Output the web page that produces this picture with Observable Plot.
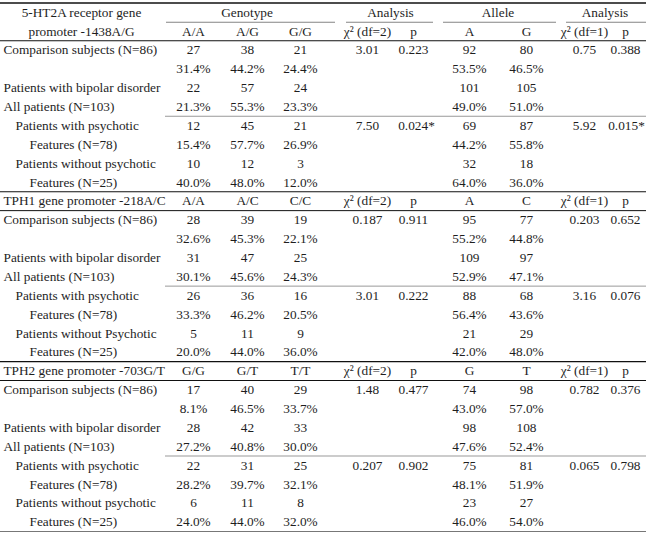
<!DOCTYPE html>
<html>
<head>
<meta charset="utf-8">
<script src="https://cdn.jsdelivr.net/npm/d3@7"></script>
<script src="https://cdn.jsdelivr.net/npm/@observablehq/plot@0.6"></script>
<style>
  html, body { margin: 0; padding: 0; background: #fff; }
  #chart svg { display: block; }
</style>
</head>
<body>
<div id="chart"></div>
<script>
// ---------- data ----------
const geneTitles = [
  ["5-HT2A receptor gene", "promoter -1438A/G"],
  ["TPH1 gene promoter -218A/C"],
  ["TPH2 gene promoter -703G/T"]
];
const groupHeaders = ["Genotype", "Analysis", "Allele", "Analysis"];
const genotypeLabels = [["A/A", "A/G", "G/G"], ["A/A", "A/C", "C/C"], ["G/G", "G/T", "T/T"]];
const alleleLabels = [["A", "G"], ["A", "C"], ["G", "T"]];
const chiLabels = ["χ² (df=2)", "p", "χ² (df=1)", "p"];

const rowLabels = [
  [["Comparison subjects (N=86)", ""], ["Patients with bipolar disorder", "All patients (N=103)"], ["Patients with psychotic", "Features (N=78)"], ["Patients without psychotic", "Features (N=25)"]],
  [["Comparison subjects (N=86)", ""], ["Patients with bipolar disorder", "All patients (N=103)"], ["Patients with psychotic", "Features (N=78)"], ["Patients without Psychotic", "Features (N=25)"]],
  [["Comparison subjects (N=86)", ""], ["Patients with bipolar disorder", "All patients (N=103)"], ["Patients with psychotic", "Features (N=78)"], ["Patients without psychotic", "Features (N=25)"]]
];

const genotypeCounts = [
  [[27, 38, 21], [22, 57, 24], [12, 45, 21], [10, 12, 3]],
  [[28, 39, 19], [31, 47, 25], [26, 36, 16], [5, 11, 9]],
  [[17, 40, 29], [28, 42, 33], [22, 31, 25], [6, 11, 8]]
];
const genotypePct = [
  [[31.4, 44.2, 24.4], [21.3, 55.3, 23.3], [15.4, 57.7, 26.9], [40.0, 48.0, 12.0]],
  [[32.6, 45.3, 22.1], [30.1, 45.6, 24.3], [33.3, 46.2, 20.5], [20.0, 44.0, 36.0]],
  [[8.1, 46.5, 33.7], [27.2, 40.8, 30.0], [28.2, 39.7, 32.1], [24.0, 44.0, 32.0]]
];
const alleleCounts = [
  [[92, 80], [101, 105], [69, 87], [32, 18]],
  [[95, 77], [109, 97], [88, 68], [21, 29]],
  [[74, 98], [98, 108], [75, 81], [23, 27]]
];
const allelePct = [
  [[53.5, 46.5], [49.0, 51.0], [44.2, 55.8], [64.0, 36.0]],
  [[55.2, 44.8], [52.9, 47.1], [56.4, 43.6], [42.0, 48.0]],
  [[43.0, 57.0], [47.6, 52.4], [48.1, 51.9], [46.0, 54.0]]
];
// [chi2, p] for groups 0 (comparison) and 2 (psychotic vs non-psychotic)
const genotypeChi = [
  [["3.01", "0.223"], null, ["7.50", "0.024*"], null],
  [["0.187", "0.911"], null, ["3.01", "0.222"], null],
  [["1.48", "0.477"], null, ["0.207", "0.902"], null]
];
const alleleChi = [
  [["0.75", "0.388"], null, ["5.92", "0.015*"], null],
  [["0.203", "0.652"], null, ["3.16", "0.076"], null],
  [["0.782", "0.376"], null, ["0.065", "0.798"], null]
];

// ---------- layout ----------
const W = 646, H = 533;
const colX = [193, 247, 300, 367, 413, 469, 526, 584, 625]; // column centres
const starShift = [3, 1]; // extra shift for starred p-values (inner p column, last p column)
const indentX = [3, 15, 29];
const titleCenterX = 81;
const sectionStart = [0, 10, 19];   // first row of each section
const headerRows = [2, 1, 1];

const leftTexts = [], midTexts = [], starTexts = [], rules = [];
const fmtPct = v => v.toFixed(1) + "%";
const pushP = (x, y, text, shift) => {
  if (text.endsWith("*")) starTexts.push({x: x + shift, y, text});
  else midTexts.push({x, y, text});
};

geneTitles.forEach((title, s) => {
  const r0 = sectionStart[s];
  if (s === 0) {
    title.forEach((t, i) => midTexts.push({x: titleCenterX, y: r0 + i, text: t}));
    const spans = [[0, 2], [3, 4], [5, 6], [7, 8]];
    groupHeaders.forEach((g, i) => {
      const [a, b] = spans[i];
      midTexts.push({x: (colX[a] + colX[b]) / 2, y: r0, text: g});
    });
  } else {
    leftTexts.push({x: indentX[0], y: r0, text: title[0]});
  }
  const hr = r0 + headerRows[s] - 1;
  genotypeLabels[s].forEach((t, i) => midTexts.push({x: colX[i], y: hr, text: t}));
  midTexts.push({x: colX[3], y: hr, text: chiLabels[0]});
  midTexts.push({x: colX[4], y: hr, text: chiLabels[1]});
  alleleLabels[s].forEach((t, i) => midTexts.push({x: colX[5 + i], y: hr, text: t}));
  midTexts.push({x: colX[7], y: hr, text: chiLabels[2]});
  midTexts.push({x: colX[8], y: hr, text: chiLabels[3]});

  const d0 = hr + 1;
  for (let g = 0; g < 4; g++) {
    const ya = d0 + g * 2, yb = ya + 1;
    const lvl = g < 2 ? [0, 0] : [1, 2];
    if (rowLabels[s][g][0]) leftTexts.push({x: indentX[lvl[0]], y: ya, text: rowLabels[s][g][0]});
    if (rowLabels[s][g][1]) leftTexts.push({x: indentX[lvl[1]], y: yb, text: rowLabels[s][g][1]});
    genotypeCounts[s][g].forEach((v, i) => midTexts.push({x: colX[i], y: ya, text: String(v)}));
    genotypePct[s][g].forEach((v, i) => midTexts.push({x: colX[i], y: yb, text: fmtPct(v)}));
    alleleCounts[s][g].forEach((v, i) => midTexts.push({x: colX[5 + i], y: ya, text: String(v)}));
    allelePct[s][g].forEach((v, i) => midTexts.push({x: colX[5 + i], y: yb, text: fmtPct(v)}));
    if (genotypeChi[s][g]) {
      midTexts.push({x: colX[3], y: ya, text: genotypeChi[s][g][0]});
      pushP(colX[4], ya, genotypeChi[s][g][1], starShift[0]);
    }
    if (alleleChi[s][g]) {
      midTexts.push({x: colX[7], y: ya, text: alleleChi[s][g][0]});
      pushP(colX[8], ya, alleleChi[s][g][1], starShift[1]);
    }
  }
  // rules
  rules.push({y: r0 - 0.5, x1: 0, x2: W, stroke: "#111", w: s === 0 ? 1.4 : 1.1});
  rules.push({y: hr + 0.5, x1: 0, x2: W, stroke: "#111", w: 1});
  rules.push({y: d0 + 3.5, x1: 165, x2: W, stroke: "#999", w: 1});
});
// group underlines in first header
[[166, 335], [346, 433], [443, 556], [566, W]].forEach(([a, b]) =>
  rules.push({y: 0.52, x1: a, x2: b, stroke: "#777", w: 0.9}));
rules.push({y: 27.5, x1: 0, x2: W, stroke: "#777", w: 1.1});

const font = {fontFamily: "Liberation Serif, Times New Roman, serif", fontSize: 13.3, fill: "#1e1e1e"};

const chart = Plot.plot({
  width: W, height: H, margin: 0,
  x: {domain: [0, W], range: [0, W], axis: null},
  y: {domain: [-0.5, 27.5], range: [2.5, 531], axis: null},
  marks: [
    Plot.ruleY(rules, {y: "y", x1: "x1", x2: "x2", stroke: "stroke", strokeWidth: "w"}),
    Plot.text(leftTexts, {x: "x", y: "y", text: "text", textAnchor: "start", ...font}),
    Plot.text(midTexts, {x: "x", y: "y", text: "text", textAnchor: "middle", ...font}),
    Plot.text(starTexts, {x: "x", y: "y", text: "text", textAnchor: "middle", ...font})
  ]
});
document.getElementById("chart").append(chart);
</script>
</body>
</html>
